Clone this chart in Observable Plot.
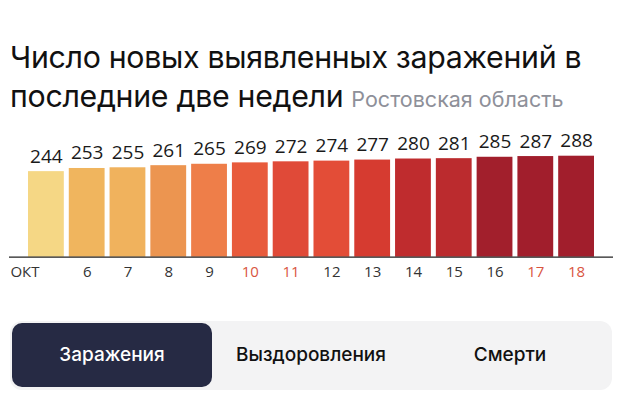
<!DOCTYPE html>
<html><head><meta charset="utf-8">
<script src="https://cdn.jsdelivr.net/npm/d3@7"></script>
<script src="https://cdn.jsdelivr.net/npm/@observablehq/plot@0.6"></script>
<style>
html,body{margin:0;padding:0;background:#fff;width:640px;height:401px;overflow:hidden;}
#wrap{position:relative;width:640px;height:401px;font-family:Inter,"Open Sans",sans-serif;}
#title{position:absolute;left:10px;top:38px;font-size:30.3px;line-height:38.5px;color:#111;letter-spacing:-0.3px;white-space:nowrap;}
#title .sub{font-size:21.5px;color:#8e9099;margin-left:8px;letter-spacing:0;}
#chart{position:absolute;left:0;top:120px;}
#tabs{position:absolute;left:10px;top:321px;width:602px;height:69px;background:#f3f3f4;border-radius:12px;}
.tab{position:absolute;top:2px;height:64px;width:200px;line-height:64px;text-align:center;font-size:19px;font-weight:500;color:#111;}
.tab.on{background:#262a44;color:#fff;border-radius:10px;}
</style></head>
<body><div id="wrap">
<div id="title">Число новых выявленных заражений в<br>последние две недели<span class="sub">Ростовская область</span></div>
<div id="chart"></div>
<div id="tabs">
<div class="tab on" style="left:2px">Заражения</div>
<div class="tab" style="left:201px">Выздоровления</div>
<div class="tab" style="left:400px">Смерти</div>
</div>
</div>
<script>
const days = [5,6,7,8,9,10,11,12,13,14,15,16,17,18];
const cases = [244,253,255,261,265,269,272,274,277,280,281,285,287,288];
const tickLabels = ["ОКТ","6","7","8","9","10","11","12","13","14","15","16","17","18"];
const weekend = [false,false,false,false,false,true,true,false,false,false,false,false,true,true];
const barColors = ["#f5d785","#f0b55e","#f0b25d","#ec9550","#ee7e49","#e85b3c","#e04a38","#e34d37","#d63b30","#bf2c2e","#bb2b2e","#a21f2c","#a11e2c","#a11e2c"];

const data = days.map((d,i)=>({day:d, value:cases[i], color:barColors[i], label:tickLabels[i], weekend:weekend[i]}));
const chart = Plot.plot({
  width:640, height:170,
  marginLeft:9, marginRight:27, marginTop:31.5, marginBottom:33.3,
  x:{type:"band", domain:days, paddingInner:0.122, paddingOuter:0, round:false, insetLeft:19, insetRight:19, axis:null},
  y:{domain:[0,300], axis:null},
  style:{fontFamily:"'Open Sans', sans-serif", background:"transparent"},
  marks:[
    Plot.barY(data,{x:"day", y:"value", fill:"color"}),
    Plot.ruleY([0],{stroke:"#222", strokeWidth:1.2}),
    Plot.text(data,{x:"day", y:"value", text:d=>String(d.value), lineAnchor:"bottom", dy:-9, fontSize:19, fill:"#1a1a1a"}),
    Plot.text(data.slice(1),{x:"day", text:"label", frameAnchor:"bottom", lineAnchor:"bottom", dy:20, fontSize:15, fill:d=>d.weekend?"#d9553f":"#333"}),
    Plot.text(data.slice(0,1),{x:"day", text:"label", frameAnchor:"bottom", lineAnchor:"bottom", textAnchor:"start", dx:-36, dy:20, fontSize:15, fill:"#333"})
  ]
});
document.getElementById("chart").appendChild(chart);
</script>
</body></html>
